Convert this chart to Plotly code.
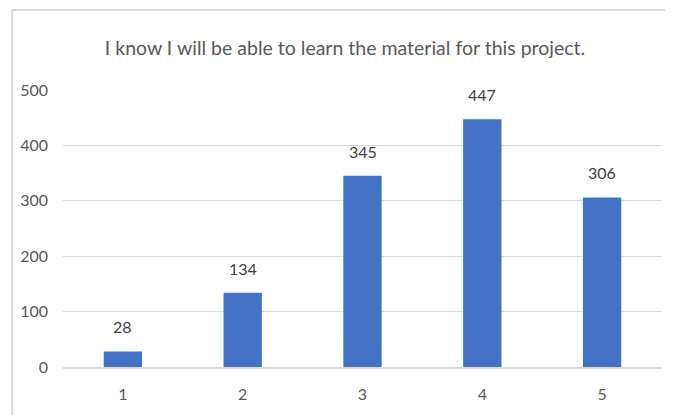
import plotly.graph_objects as go

categories = ["1", "2", "3", "4", "5"]
values = [28, 134, 345, 447, 306]
y_ticks = [0, 100, 200, 300, 400, 500]
title_text = "I know I will be able to learn the material for this project."

FONT = "Lato, sans-serif"
OFF = 8  # page body margin offset
W, H = 673, 415
ml = 60 - OFF
mt = 90 - OFF
plot_right = 662 - OFF
plot_bottom = 367 - OFF
mr = W - plot_right
mb = H - plot_bottom
pw = W - ml - mr
ph = H - mt - mb

fig = go.Figure(go.Bar(
    x=categories, y=values,
    marker=dict(color="#4472C4", line=dict(width=0)),
    hoverinfo="skip",
))

for i, v in enumerate(values):
    fig.add_annotation(x=i, y=v, text=str(v), showarrow=False, yanchor="bottom",
                       yshift=13, font=dict(family=FONT, size=16, color="#404040"))

fig.update_layout(
    width=W, height=H,
    margin=dict(l=ml, r=mr, t=mt, b=mb),
    paper_bgcolor="white", plot_bgcolor="white",
    bargap=0.68,
    showlegend=False,
    title=dict(text=title_text, x=(345 - OFF) / W, xanchor="center", y=1 - (48 - OFF) / H, yanchor="middle",
               font=dict(family=FONT, size=19.5, color="#595959")),
    xaxis=dict(type="category", range=[-0.5, 4.5], showgrid=False, showline=True, linecolor="#D9D9D9",
               linewidth=1.5, ticks="", tickfont=dict(family=FONT, size=16, color="#595959"),
               ticklabelstandoff=12),
    yaxis=dict(range=[0, 500], tickvals=y_ticks, showgrid=True, gridcolor="#D9D9D9", gridwidth=1.3,
               zeroline=False, showline=False, ticks="",
               tickfont=dict(family=FONT, size=16, color="#595959"), ticklabelstandoff=14),
    shapes=[dict(type="rect", xref="paper", yref="paper",
                 x0=(1 - ml) / pw, x1=(W + 20 - ml) / pw,
                 y0=-(mb + 20) / ph, y1=(plot_bottom - 2) / ph,
                 line=dict(color="#D9D9D9", width=2), fillcolor="rgba(0,0,0,0)", layer="below")],
)

fig.write_html("out.html")
